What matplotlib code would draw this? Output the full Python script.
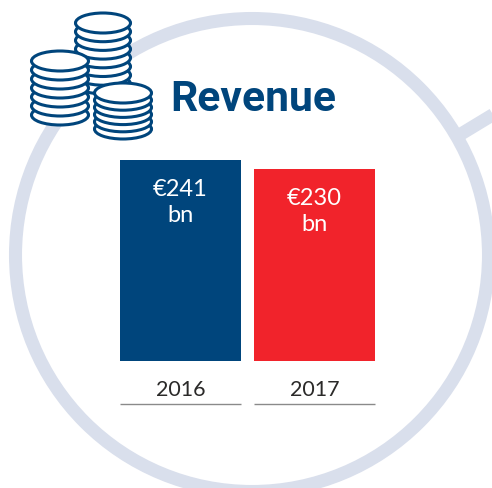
from matplotlib import pyplot as plt
from matplotlib.patches import Circle, Ellipse

W, H = 492, 488
BLUE = "#00457c"
RED = "#f1232b"
RING = "#d9dfec"

years = ["2016", "2017"]
revenue = [241, 230]
bar_labels = ["€241\nbn", "€230\nbn"]
bar_colors = [BLUE, RED]

FONT = ["Lato", "DejaVu Sans"]


def px_rect(x0, y0, x1, y1):
    # figure fractions from pixel box, y down
    return [x0 / W, 1 - y1 / H, (x1 - x0) / W, (y1 - y0) / H]


def coin_stack(ax, cx, cy, rx, ry, step, n, z):
    # bottom coin first so every coin above covers it
    for i in range(n, -1, -1):
        ax.add_patch(Ellipse((cx, cy + i * step), 2 * rx, 2 * ry, facecolor="white",
                             edgecolor=BLUE, linewidth=2.2, zorder=z))


fig = plt.figure(figsize=(W / 100, H / 100), dpi=100)

bg = fig.add_axes([0, 0, 1, 1])
bg.set_xlim(0, W)
bg.set_ylim(H, 0)
bg.axis("off")

# big circle and the handle going off to the right
bg.add_patch(Circle((252, 255), 236.5, fill=False, edgecolor=RING, linewidth=9.4, zorder=1))
bg.plot([461, 494], [134, 114], color=RING, linewidth=9.4, solid_capstyle="butt", zorder=1)

coin_stack(bg, 103, 23, 27.5, 10, 8.7, 7, 2)
coin_stack(bg, 60, 61, 28.5, 10, 9, 6, 3)
coin_stack(bg, 123, 93, 28.5, 10, 7.2, 5, 4)

bg.text(170, 111, "Revenue", family=["Roboto", "DejaVu Sans"], fontsize=30.7, fontweight="bold", color=BLUE,
        ha="left", va="baseline", zorder=5)

# bars, the box is set so 241 reaches the top pixel row
ax = fig.add_axes(px_rect(120, 160, 375, 361))
ax.patch.set_alpha(0)
width = 121 / 134
pad = width / 2
ax.set_xlim(-pad, 1 + pad)
ax.set_ylim(0, max(revenue))
ax.bar(range(len(years)), revenue, width=width, color=bar_colors)
ax.axis("off")

for i, (val, lab) in enumerate(zip(revenue, bar_labels)):
    ax.annotate(lab, (i, val), xytext=(0, -13.5), textcoords="offset points", ha="center", va="top",
                family=FONT, fontsize=17, color="white", linespacing=1.28)

# year labels sit on their own short rules under the bars
for i, yr in enumerate(years):
    xc = 180.5 + i * 134
    bg.text(xc, 396, yr, family=FONT, fontsize=15.5, color="#2b2a29", ha="center", va="baseline", zorder=5)
    bg.plot([120 + i * 134, 240.5 + i * 134], [404, 404], color="#8a8a8a", linewidth=1.0,
            solid_capstyle="butt", zorder=5)

plt.savefig("out.png", dpi=100)
